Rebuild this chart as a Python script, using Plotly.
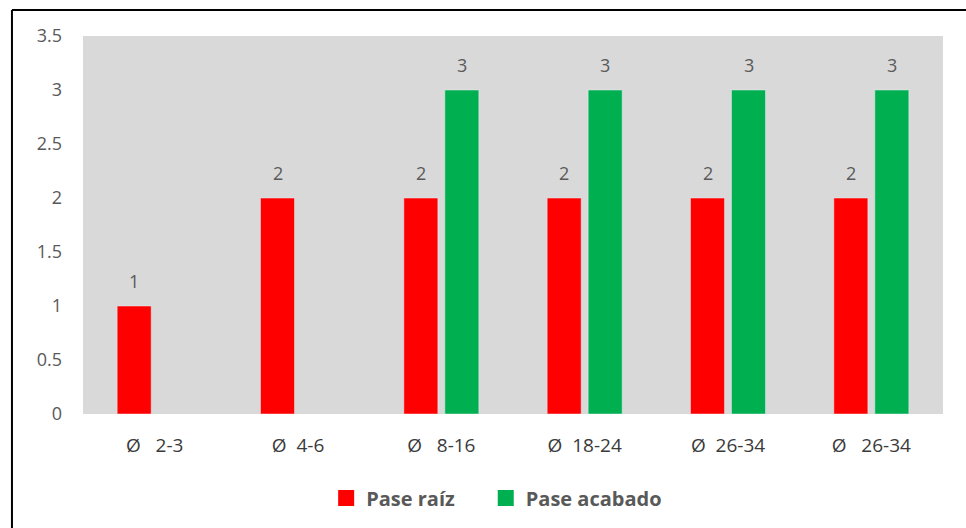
import plotly.graph_objects as go

categories = ["Ø\u00a0\u00a0\u00a02-3", "Ø\u00a0\u00a04-6", "Ø\u00a0\u00a0\u00a08-16", "Ø\u00a0\u00a018-24",
              "Ø\u00a0\u00a026-34", "Ø\u00a0\u00a0\u00a026-34"]
series_names = ["Pase raíz", "Pase acabado"]
pase_raiz = [1, 2, 2, 2, 2, 2]
pase_acabado = [None, None, 3, 3, 3, 3]
y_ticks = [0, 0.5, 1, 1.5, 2, 2.5, 3, 3.5]

RED = "#ff0000"
GREEN = "#00b050"
x_pos = list(range(len(categories)))

fig = go.Figure()
fig.add_trace(go.Bar(x=x_pos, y=pase_raiz, name=series_names[0], marker_color=RED, showlegend=False))
fig.add_trace(go.Bar(x=x_pos, y=pase_acabado, name=series_names[1], marker_color=GREEN, showlegend=False))
# legend-only entries with larger square swatches
fig.add_trace(go.Scatter(x=[None], y=[None], mode="markers", name=series_names[0] + "\u00a0" * 5,
                         marker=dict(symbol="square", size=17, color=RED)))
fig.add_trace(go.Scatter(x=[None], y=[None], mode="markers", name=series_names[1],
                         marker=dict(symbol="square", size=17, color=GREEN)))

annotations = []
for series, shift in ((pase_raiz, -20.5), (pase_acabado, 20.5)):
    for i, v in enumerate(series):
        if v is not None:
            annotations.append(dict(x=i, y=v, xref="x", yref="y", text=str(v), showarrow=False,
                                    yanchor="bottom", yshift=11, xshift=shift,
                                    font=dict(size=18, color="#595959", family="Open Sans")))

fig.update_layout(
    width=966, height=528,
    margin=dict(l=83, r=23, t=36, b=114, autoexpand=False),
    paper_bgcolor="white",
    plot_bgcolor="#d9d9d9",
    barmode="group",
    bargap=0.428,
    bargroupgap=0.17,
    font=dict(family="Open Sans", color="#595959"),
    showlegend=True,
    legend=dict(orientation="h", x=0.481, xanchor="center", y=-0.222, yanchor="middle",
                font=dict(size=20, color="#595959", family="Open Sans", weight="bold"),
                itemwidth=30, tracegroupgap=0, bgcolor="rgba(0,0,0,0)"),
    annotations=annotations,
    shapes=[
        dict(type="line", xref="paper", yref="paper", x0=-0.0826, x1=1.03, y0=1.0688, y1=1.0688,
             line=dict(color="black", width=2)),
        dict(type="line", xref="paper", yref="paper", x0=-0.0826, x1=-0.0826, y0=1.0688, y1=-0.31,
             line=dict(color="black", width=2)),
    ],
)
fig.update_xaxes(tickvals=x_pos, ticktext=categories, range=[-0.5, 5.5],
                 showgrid=False, zeroline=False, showline=False, automargin=False,
                 tickfont=dict(size=19, color="#3a3a3a"), ticklabelstandoff=18)
fig.update_yaxes(range=[0, 3.5], tickvals=y_ticks, ticktext=[str(t) for t in y_ticks],
                 showgrid=False, zeroline=False, showline=False, automargin=False,
                 tickfont=dict(size=18, color="#595959"), ticklabelstandoff=20)

fig.write_html("out.html")
